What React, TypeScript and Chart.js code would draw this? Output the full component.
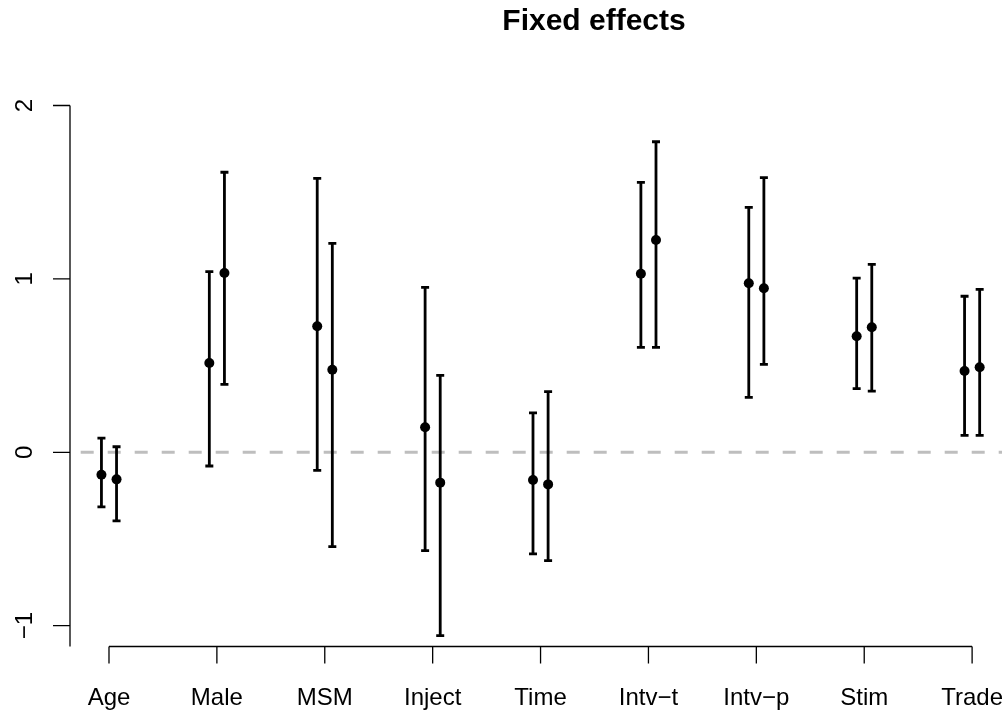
import React, { useEffect, useRef } from "react";
import { Chart, registerables } from "chart.js";

Chart.register(...registerables);

const categories = ["Age", "Male", "MSM", "Inject", "Time", "Intv\u2212t", "Intv\u2212p", "Stim", "Trade"];

// first estimate per category
const est1 = [-0.129, 0.515, 0.727, 0.144, -0.160, 1.030, 0.975, 0.669, 0.469];
const low1 = [-0.315, -0.079, -0.104, -0.567, -0.586, 0.605, 0.317, 0.367, 0.098];
const up1 = [0.082, 1.042, 1.580, 0.951, 0.227, 1.557, 1.413, 1.005, 0.900];

// second estimate per category
const est2 = [-0.156, 1.034, 0.476, -0.175, -0.185, 1.224, 0.946, 0.721, 0.490];
const low2 = [-0.396, 0.392, -0.544, -1.057, -0.625, 0.605, 0.507, 0.353, 0.098];
const up2 = [0.032, 1.615, 1.205, 0.444, 0.350, 1.791, 1.584, 1.084, 0.940];

const yTicks = [-1, 0, 1, 2];
const yTickLabels = ["\u22121", "0", "1", "2"];
const offsets = [-0.07, 0.07];

const xMin = 0.6386;
const xMax = 9.277;
const yMin = -1.12;
const yMax = 2.12;

const FONT = '"Liberation Sans", Arial, Helvetica, sans-serif';

export default function App() {
  const ref = useRef<HTMLCanvasElement | null>(null);

  useEffect(() => {
    const canvas = ref.current;
    if (!canvas) return;

    const series = [
      { est: est1, low: low1, up: up1, off: offsets[0] },
      { est: est2, low: low2, up: up2, off: offsets[1] },
    ];

    const rPlugin = {
      id: "rstyle",
      beforeDatasetsDraw(chart: any) {
        const { ctx, chartArea } = chart;
        const xs = chart.scales.x;
        const ys = chart.scales.y;
        // dashed zero line
        ctx.save();
        ctx.strokeStyle = "#bebebe";
        ctx.lineWidth = 3;
        ctx.setLineDash([13, 14]);
        ctx.lineDashOffset = 16.3;
        const y0 = ys.getPixelForValue(0);
        ctx.beginPath();
        ctx.moveTo(chartArea.left, y0);
        ctx.lineTo(chartArea.right, y0);
        ctx.stroke();
        ctx.restore();

        // error bars
        ctx.save();
        ctx.strokeStyle = "#000";
        ctx.lineWidth = 2.8;
        const cap = 4;
        series.forEach((s) => {
          categories.forEach((_, i) => {
            const px = xs.getPixelForValue(i + 1 + s.off);
            const pl = ys.getPixelForValue(s.low[i]);
            const pu = ys.getPixelForValue(s.up[i]);
            ctx.beginPath();
            ctx.moveTo(px, pl);
            ctx.lineTo(px, pu);
            ctx.moveTo(px - cap, pl);
            ctx.lineTo(px + cap, pl);
            ctx.moveTo(px - cap, pu);
            ctx.lineTo(px + cap, pu);
            ctx.stroke();
          });
        });
        ctx.restore();
      },
      afterDraw(chart: any) {
        const { ctx, chartArea } = chart;
        const xs = chart.scales.x;
        const ys = chart.scales.y;
        ctx.save();
        ctx.strokeStyle = "#000";
        ctx.fillStyle = "#000";
        ctx.lineWidth = 1.3;
        const tick = 17;
        // y axis
        const yTop = ys.getPixelForValue(yTicks[yTicks.length - 1]);
        ctx.beginPath();
        ctx.moveTo(chartArea.left, yTop);
        ctx.lineTo(chartArea.left, chartArea.bottom);
        yTicks.forEach((v) => {
          const py = ys.getPixelForValue(v);
          ctx.moveTo(chartArea.left - tick, py);
          ctx.lineTo(chartArea.left, py);
        });
        // x axis
        const xFirst = xs.getPixelForValue(1);
        const xLast = xs.getPixelForValue(categories.length);
        ctx.moveTo(xFirst, chartArea.bottom);
        ctx.lineTo(xLast, chartArea.bottom);
        categories.forEach((_, i) => {
          const px = xs.getPixelForValue(i + 1);
          ctx.moveTo(px, chartArea.bottom);
          ctx.lineTo(px, chartArea.bottom + tick);
        });
        ctx.stroke();

        // labels
        ctx.font = `24px ${FONT}`;
        ctx.textAlign = "center";
        ctx.textBaseline = "alphabetic";
        categories.forEach((c, i) => {
          const px = xs.getPixelForValue(i + 1);
          ctx.fillText(c, px, chartArea.bottom + 58.5);
        });
        yTicks.forEach((v, i) => {
          const py = ys.getPixelForValue(v);
          ctx.save();
          ctx.translate(chartArea.left - 38, py);
          ctx.rotate(-Math.PI / 2);
          ctx.fillText(yTickLabels[i], 0, 0);
          ctx.restore();
        });

        // title
        ctx.font = `bold 30px ${FONT}`;
        ctx.fillText("Fixed effects", 594, 30);
        ctx.restore();
      },
    };

    const chart = new Chart(canvas, {
      type: "scatter",
      data: {
        datasets: series.map((s, k) => ({
          label: "est" + (k + 1),
          data: s.est.map((v, i) => ({ x: i + 1 + s.off, y: v })),
          backgroundColor: "#000",
          borderColor: "#000",
          borderWidth: 0,
          pointRadius: 5,
          pointHoverRadius: 5,
        })),
      },
      options: {
        responsive: false,
        animation: false,
        events: [],
        layout: { autoPadding: false, padding: { left: 70, right: 0, top: 84.7, bottom: 66.5 } },
        scales: {
          x: { type: "linear", min: xMin, max: xMax, display: false },
          y: { type: "linear", min: yMin, max: yMax, display: false },
        },
        plugins: {
          legend: { display: false },
          title: { display: false },
          tooltip: { enabled: false },
        },
      },
      plugins: [rPlugin],
    });

    return () => chart.destroy();
  }, []);

  return (
    <div style={{ position: "fixed", left: 0, top: 0, width: 1002, height: 713, overflow: "hidden", background: "#fff" }}>
      <canvas ref={ref} width={1002} height={713} style={{ width: 1002, height: 713, display: "block" }} />
    </div>
  );
}
